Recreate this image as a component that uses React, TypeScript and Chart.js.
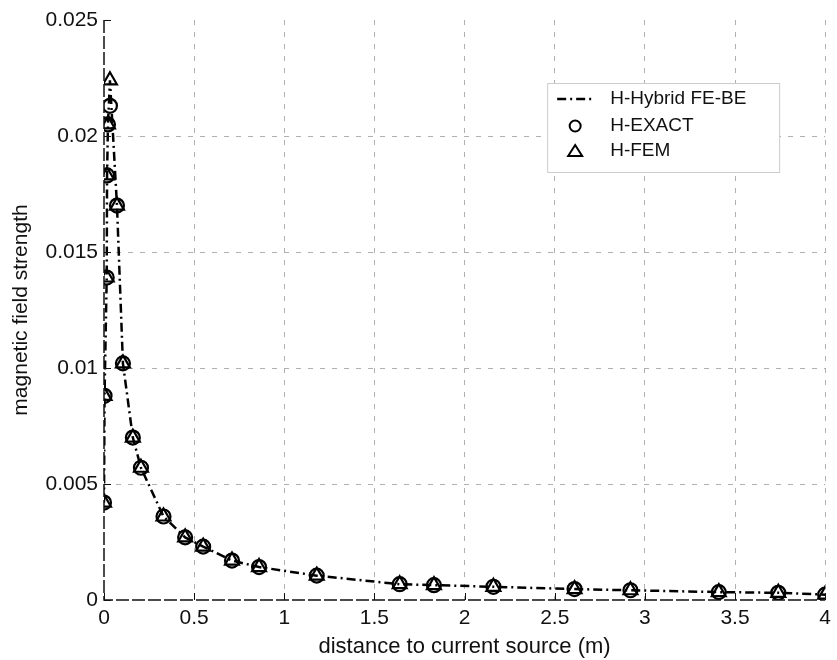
import { useEffect, useRef } from 'react';
import { Chart, registerables } from 'chart.js';

Chart.register(...registerables);

// distance to current source (m)
const distances = [0.0, 0.003, 0.015, 0.017, 0.022, 0.033, 0.072, 0.105, 0.16, 0.205, 0.33, 0.45, 0.55, 0.71, 0.86, 1.18, 1.64, 1.83, 2.16, 2.61, 2.92, 3.41, 3.74, 4.0];
// magnetic field strength
const hybridValues = [0.0042, 0.0088, 0.0139, 0.0183, 0.0205, 0.0224, 0.0170, 0.0102, 0.0070, 0.0057, 0.0036, 0.0027, 0.0023, 0.0017, 0.00142, 0.00105, 0.00068, 0.00064, 0.00057, 0.00047, 0.00042, 0.00034, 0.00031, 0.00023];
const exactValues = [0.0042, 0.0088, 0.0139, 0.0183, 0.0205, 0.0213, 0.0170, 0.0102, 0.0070, 0.0057, 0.0036, 0.0027, 0.0023, 0.0017, 0.00142, 0.00105, 0.00068, 0.00064, 0.00057, 0.00047, 0.00042, 0.00034, 0.00031, 0.00023];
const femValues = [0.0042, 0.0088, 0.0139, 0.0183, 0.0205, 0.0224, 0.0170, 0.0102, 0.0070, 0.0057, 0.0036, 0.0027, 0.0023, 0.0017, 0.00142, 0.00105, 0.00068, 0.00064, 0.00057, 0.00047, 0.00042, 0.00034, 0.00031, 0.00023];

const seriesLabels = ['H-Hybrid FE-BE', 'H-EXACT', 'H-FEM'];
const xAxisTitle = 'distance to current source (m)';
const yAxisTitle = 'magnetic field strength';

const FONT = "'Liberation Sans', Arial, sans-serif";
const TICK_SIZE = 21;
const TITLE_SIZE = 22;
const LEGEND_SIZE = 19;
const DASH_DOT = [9, 4, 2, 4];
const GRID_DASH = [5, 7];
const GRID_COLOR = '#b0b0b0';

const toPoints = (ys: number[]) => distances.map((x, i) => ({ x, y: ys[i] }));

const axesAndTicks = {
  id: 'axesAndTicks',
  afterDatasetsDraw(chart: any) {
    const { ctx, chartArea, scales } = chart;
    ctx.save();
    ctx.strokeStyle = '#111';
    ctx.lineWidth = 1.5;
    ctx.setLineDash([13, 3]);
    ctx.beginPath();
    ctx.moveTo(chartArea.left, chartArea.top);
    ctx.lineTo(chartArea.left, chartArea.bottom);
    ctx.lineTo(chartArea.right, chartArea.bottom);
    ctx.stroke();
    ctx.setLineDash([]);
    ctx.lineWidth = 1;
    scales.x.ticks.forEach((t: any) => {
      const px = Math.round(scales.x.getPixelForValue(t.value)) + 0.5;
      ctx.beginPath();
      ctx.moveTo(px, chartArea.bottom);
      ctx.lineTo(px, chartArea.bottom - 7);
      ctx.stroke();
    });
    scales.y.ticks.forEach((t: any) => {
      const py = Math.round(scales.y.getPixelForValue(t.value)) + 0.5;
      ctx.beginPath();
      ctx.moveTo(chartArea.left, py);
      ctx.lineTo(chartArea.left + 7, py);
      ctx.stroke();
    });
    ctx.restore();
  },
};

const boxLegend = {
  id: 'boxLegend',
  afterDraw(chart: any) {
    const { ctx, chartArea } = chart;
    const right = chartArea.right - 46;
    const top = chartArea.top + 63;
    const w = 232;
    const h = 89;
    const left = right - w;
    ctx.save();
    ctx.fillStyle = '#ffffff';
    ctx.fillRect(left, top, w, h);
    ctx.strokeStyle = '#cccccc';
    ctx.lineWidth = 1;
    ctx.strokeRect(left + 0.5, top + 0.5, w, h);

    const sx = left + 28;
    const rows = [top + 16, top + 43, top + 68];
    ctx.strokeStyle = '#000';
    ctx.lineWidth = 2.5;
    ctx.setLineDash(DASH_DOT);
    ctx.beginPath();
    ctx.moveTo(sx - 18, rows[0]);
    ctx.lineTo(sx + 18, rows[0]);
    ctx.stroke();
    ctx.setLineDash([]);
    ctx.lineWidth = 2;
    ctx.beginPath();
    ctx.arc(sx, rows[1], 5.5, 0, Math.PI * 2);
    ctx.stroke();
    ctx.beginPath();
    ctx.moveTo(sx, rows[2] - 6);
    ctx.lineTo(sx + 7, rows[2] + 5);
    ctx.lineTo(sx - 7, rows[2] + 5);
    ctx.closePath();
    ctx.stroke();

    ctx.fillStyle = '#111';
    ctx.font = `${LEGEND_SIZE}px ${FONT}`;
    ctx.textBaseline = 'middle';
    ctx.textAlign = 'left';
    seriesLabels.forEach((lbl, i) => ctx.fillText(lbl, left + 63, rows[i]));
    ctx.restore();
  },
};

export default function App() {
  const ref = useRef<HTMLCanvasElement | null>(null);

  useEffect(() => {
    document.body.style.margin = '0';
    const canvas = ref.current;
    if (!canvas) return;
    const chart = new Chart(canvas, {
      type: 'scatter',
      data: {
        datasets: [
          {
            label: seriesLabels[0],
            data: toPoints(hybridValues),
            showLine: true,
            borderColor: '#000',
            borderWidth: 2.5,
            borderDash: DASH_DOT,
            pointRadius: 0,
            fill: false,
            tension: 0,
          },
          {
            label: seriesLabels[1],
            data: toPoints(exactValues),
            showLine: false,
            pointStyle: 'circle',
            pointRadius: 7,
            pointBorderWidth: 2.2,
            pointBorderColor: '#000',
            pointBackgroundColor: 'rgba(0,0,0,0)',
          },
          {
            label: seriesLabels[2],
            data: toPoints(femValues),
            showLine: false,
            pointStyle: 'triangle',
            pointRadius: 8,
            pointBorderWidth: 2.2,
            pointBorderColor: '#000',
            pointBackgroundColor: 'rgba(0,0,0,0)',
          },
        ],
      },
      options: {
        responsive: false,
        animation: false,
        devicePixelRatio: 1,
        layout: { padding: { left: 0, top: 20, right: 7, bottom: 0 } },
        plugins: {
          legend: { display: false },
          tooltip: { enabled: false },
        },
        scales: {
          x: {
            type: 'linear',
            min: 0,
            max: 4,
            ticks: {
              stepSize: 0.5,
              color: '#111',
              font: { family: FONT, size: TICK_SIZE },
              padding: 6,
              maxRotation: 0,
              callback: (v: any) => String(Number(v)),
            },
            grid: {
              color: (c: any) => (c.tick && c.tick.value === 0 ? 'rgba(0,0,0,0)' : GRID_COLOR),
              lineWidth: 1,
              drawTicks: false,
            },
            border: { display: false, dash: GRID_DASH },
            title: {
              display: true,
              text: xAxisTitle,
              color: '#111',
              font: { family: FONT, size: TITLE_SIZE },
              padding: { top: 0, bottom: 0 },
            },
            afterFit: (s: any) => {
              s.height = 60;
            },
          },
          y: {
            type: 'linear',
            min: 0,
            max: 0.025,
            ticks: {
              stepSize: 0.005,
              color: '#111',
              font: { family: FONT, size: TICK_SIZE },
              padding: 6,
              callback: (v: any) => String(Number(Number(v).toFixed(3))),
            },
            grid: {
              color: (c: any) =>
                c.tick && (c.tick.value === 0 || c.tick.value >= 0.0249) ? 'rgba(0,0,0,0)' : GRID_COLOR,
              lineWidth: 1,
              drawTicks: false,
            },
            border: { display: false, dash: GRID_DASH },
            title: {
              display: true,
              text: yAxisTitle,
              color: '#111',
              font: { family: FONT, size: TICK_SIZE },
              padding: { top: 9, bottom: 0 },
            },
            afterFit: (s: any) => {
              s.width = 104;
            },
          },
        },
      },
      plugins: [axesAndTicks, boxLegend],
    } as any);

    return () => chart.destroy();
  }, []);

  return (
    <div style={{ width: 837, height: 660, position: 'relative', background: '#fff' }}>
      <canvas ref={ref} width={837} height={660} />
    </div>
  );
}
